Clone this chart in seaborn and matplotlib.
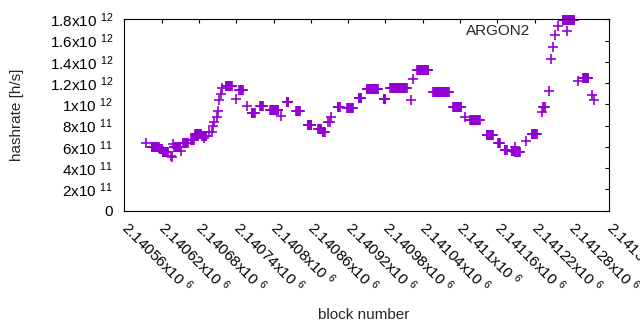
import numpy as np
import pandas as pd
import matplotlib
matplotlib.use('Agg')
import matplotlib.pyplot as plt
from matplotlib.ticker import FuncFormatter
import seaborn as sns

# hashrate runs: first block, last block, hashrate (x1e11 h/s)
run_first = [2140595, 2140604, 2140617, 2140622, 2140635, 2140636, 2140639, 2140640,
             2140652, 2140655, 2140668, 2140674, 2140685, 2140689, 2140697, 2140701,
             2140703, 2140705, 2140709, 2140711, 2140713, 2140715, 2140717, 2140723,
             2140739, 2140745, 2140758, 2140765, 2140779, 2140795, 2140812, 2140821,
             2140836, 2140855, 2140872, 2140879, 2140888, 2140891, 2140893, 2140903,
             2140918, 2140937, 2140950, 2140977, 2140988, 2141021, 2141025, 2141031,
             2141057, 2141089, 2141108, 2141116, 2141143, 2141161, 2141172, 2141183,
             2141188, 2141189, 2141206, 2141215, 2141231, 2141234, 2141243, 2141246,
             2141250, 2141253, 2141257, 2141265, 2141290, 2141298, 2141313, 2141316]
run_last = [2140595, 2140616, 2140621, 2140630, 2140635, 2140636, 2140639, 2140650,
            2140652, 2140662, 2140672, 2140683, 2140692, 2140689, 2140697, 2140701,
            2140703, 2140705, 2140709, 2140711, 2140713, 2140715, 2140717, 2140733,
            2140739, 2140751, 2140758, 2140770, 2140783, 2140808, 2140812, 2140824,
            2140842, 2140861, 2140877, 2140882, 2140888, 2140891, 2140893, 2140907,
            2140928, 2140941, 2140968, 2140980, 2141014, 2141021, 2141025, 2141049,
            2141082, 2141102, 2141108, 2141132, 2141153, 2141164, 2141175, 2141187,
            2141188, 2141196, 2141206, 2141223, 2141231, 2141236, 2141243, 2141246,
            2141250, 2141253, 2141257, 2141284, 2141290, 2141306, 2141313, 2141316]
run_rate = [6.34, 5.96, 5.80, 5.55, 5.14, 5.02, 6.27, 5.96,
            5.64, 6.34, 6.65, 7.18, 7.02, 6.86, 7.43, 7.43,
            7.96, 8.37, 8.84, 9.40, 10.4, 11.0, 11.5, 11.73,
            10.5, 11.35, 9.85, 9.16, 9.85, 9.47, 8.90, 10.22,
            9.37, 8.06, 7.68, 7.43, 8.34, 8.34, 8.84, 9.72,
            9.63, 10.57, 11.44, 10.48, 11.51, 10.4, 12.38, 13.21,
            11.13, 9.72, 8.84, 8.53, 7.12, 6.41, 5.75, 5.66,
            6.00, 5.55, 6.60, 7.21, 9.31, 9.72, 11.28, 14.26,
            15.36, 16.52, 17.41, 17.93, 12.20, 12.45, 10.88, 10.45]

series_name = 'ARGON2'
x_ticks = [2140560, 2140620, 2140680, 2140740, 2140800, 2140860, 2140920,
           2140980, 2141040, 2141100, 2141160, 2141220, 2141280, 2141340]
y_ticks = [0, 2e11, 4e11, 6e11, 8e11, 1e12, 1.2e12, 1.4e12, 1.6e12, 1.8e12]

# one point per block inside each run
blocks = np.concatenate([np.arange(a, b + 1) for a, b in zip(run_first, run_last)])
rates = np.concatenate([np.full(b - a + 1, r * 1e11) for a, b, r in zip(run_first, run_last, run_rate)])
df = pd.DataFrame({'block': blocks, 'rate': rates})

sns.set_theme(style='white')
plt.rcParams['font.family'] = ['Liberation Sans', 'DejaVu Sans']
plt.rcParams['mathtext.fontset'] = 'custom'
plt.rcParams['mathtext.rm'] = 'Liberation Sans'
plt.rcParams['mathtext.it'] = 'Liberation Sans'
plt.rcParams['mathtext.default'] = 'regular'


def sci_label(v, pos=None):
    if v == 0:
        return '0'
    exp = int(np.floor(np.log10(abs(v)) + 1e-9))
    mant = v / 10 ** exp
    return f'{mant:g}x10 $^{{{exp}}}$'


fig = plt.figure(figsize=(6.4, 3.3), dpi=100)
ax = fig.add_axes([0.1942, 0.3615, 0.7578, 0.58])

sns.scatterplot(data=df, x='block', y='rate', marker='+', s=48, color='#9400d3',
                linewidth=1.2, ax=ax, label=series_name, legend=False)
for coll in ax.collections:
    coll.set_clip_on(False)

ax.set_xlim(x_ticks[0], x_ticks[-1])
ax.set_ylim(0, 1.8e12)
ax.set_xticks(x_ticks)
ax.set_yticks(y_ticks)
ax.xaxis.set_major_formatter(FuncFormatter(sci_label))
ax.yaxis.set_major_formatter(FuncFormatter(sci_label))
ax.set_xlabel('')
ax.set_ylabel('')

ax.tick_params(direction='in', length=3, width=0.8, top=True, right=True,
               colors='black', labelsize=11)
ax.tick_params(axis='y', pad=8)
ax.tick_params(axis='x', pad=10)
plt.setp(ax.get_xticklabels(), rotation=-45, ha='left', va='center', rotation_mode='anchor')
for sp in ax.spines.values():
    sp.set_visible(True)
    sp.set_color('black')
    sp.set_linewidth(0.8)

ax.legend(loc='upper right', bbox_to_anchor=(0.9437, 0.975), frameon=False,
          markerfirst=False, borderaxespad=0, borderpad=0, handletextpad=1.4,
          scatterpoints=1, fontsize=11)

fig.text(17 / 640, 1 - 115 / 330, 'hashrate [h/s]', rotation=90, ha='center', va='center', fontsize=11)
fig.text(364 / 640, 1 - 315 / 330, 'block number', ha='center', va='center', fontsize=11)

fig.savefig('out.png', dpi=100)
